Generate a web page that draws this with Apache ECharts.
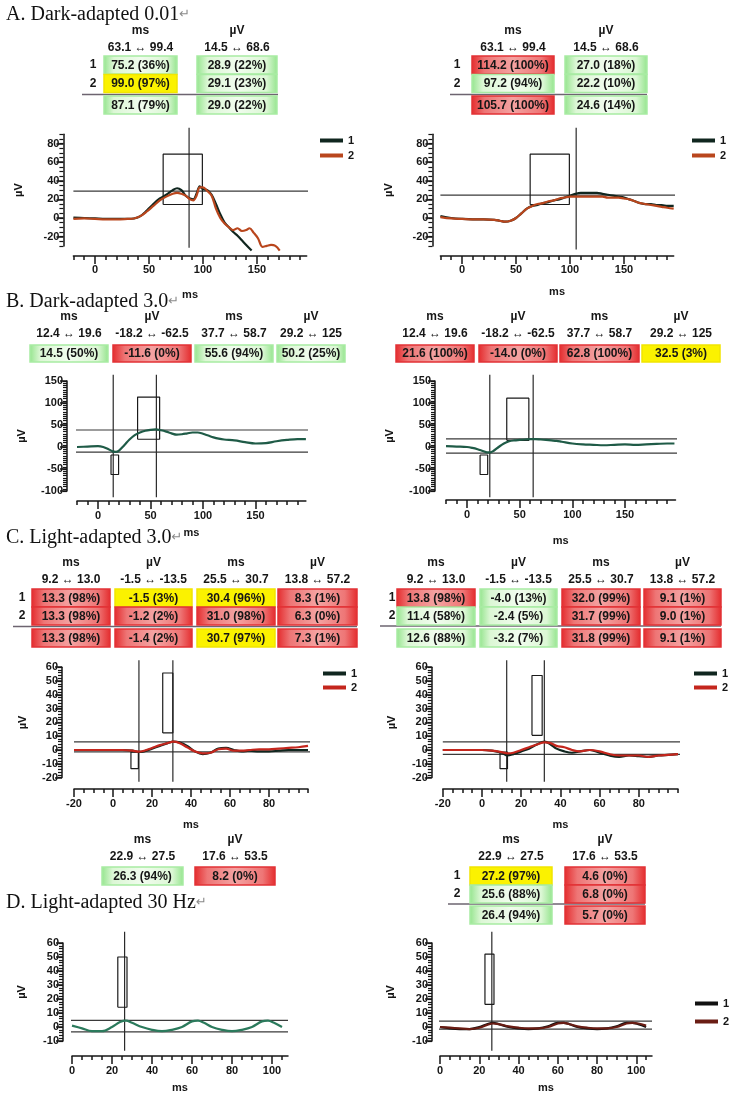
<!DOCTYPE html>
<html>
<head>
<meta charset="utf-8">
<script src="https://cdn.jsdelivr.net/npm/echarts@6.0.0/dist/echarts.min.js"></script>
<style>
html, body { margin: 0; padding: 0; background: #fff; }
#main { width: 744px; height: 1116px; }
</style>
</head>
<body>
<div id="main"></div>
<script>
// ===== waveforms (ms / µV) =====
// A. Dark-adapted 0.01, left eye
var msA1t1 = [-20,-10,0,10,20,30,36,42,48,54,60,66,72,76,80,84,88,91,94,97,100,104,108,112,116,120,124,128,132,136,140,145];
var uvA1t1 = [0.5,0,-0.5,-1,-1,-1,-0.5,2,8,15,21,25,30,32,30,24,21,20,26,34,31,30,25,15,4,-5,-10,-15,-19,-24,-29,-35];
var msA1t2 = [-20,-10,0,10,20,30,36,42,48,54,60,66,72,76,80,84,88,91,94,97,100,104,108,112,116,120,124,128,132,136,140,143,147,151,155,159,163,167,171];
var uvA1t2 = [-1,-0.5,-1,-1.5,-1.5,-1,-0.5,2,7,13,19,23,26,27,26,24,20,19,24,33,33,29,24,10,0,-6,-10,-13,-11,-14,-13,-11,-16,-22,-31,-30,-29,-30,-35];
// A. right eye
var msA2 = [-20,-10,0,10,20,30,35,40,45,50,55,60,65,70,75,80,85,90,95,100,105,110,115,120,125,130,135,140,145,150,155,160,165,170,175,180,185,190,196];
var uvA2t1 = [2,0,-1,-1.5,-1.5,-2,-3,-4,-3,0,5,10,13,14,16,17,19,20,22,24,26,27,27,27,27,26,25,24,23,22,20,18,16,15,15,14,14,13,13];
var uvA2t2 = [1,-0.5,-1,-1.5,-1.5,-2,-3,-4,-3,0,5,10,13,15,16,18,19,21,22,23,23,23,23,23,23,23,22,22,22,21,20,18,16,15,14,13,12,11,10];
// B. Dark-adapted 3.0
var msB1 = [-20,-10,0,5,10,14,17,20,25,30,35,40,45,50,55,60,65,70,75,80,85,90,95,100,105,110,115,120,130,140,150,160,170,180,190,198];
var uvB1 = [0,1,2,0,-5,-10,-11,-8,4,17,27,33,37,39,40,38,35,31,28,29,31,33,33,30,26,22,19,17,15,11,8,9,13,16,18,18];
var msB2 = [-20,-10,0,5,10,15,19,22,25,30,35,40,45,50,55,60,65,70,75,80,85,90,100,110,120,130,140,150,160,170,180,190,197];
var uvB2 = [2,1,0,-2,-5,-9,-12,-12,-9,0,8,13,15,16,17,18,18,17,16,15,14,12,8,6,5,4,5,6,5,6,7,8,8];
// C. Light-adapted 3.0
var msC1 = [-20,-15,-10,-5,0,5,10,13,16,20,24,28,31,34,38,42,46,50,54,58,62,66,70,75,80,85,90,95,100];
var uvC1t1 = [0,0,0,0,0,0,-0.5,-1.4,-1,1,3,5,6,5.5,3,-1,-3,-2,1,1.5,0,-1,-0.5,-1,-1,-0.5,0,0,0];
var uvC1t2 = [0,0,0,0,0,0,-0.5,-1.2,-0.5,1.5,3.5,5,6,5,2,-1,-2.5,-2,0.5,1,-0.5,-0.5,0,0.5,0.5,1,1.5,2,3];
var msC2 = [-20,-15,-10,-5,0,5,10,13,16,20,24,28,32,35,38,42,46,50,55,60,65,70,75,80,85,90,95,100];
var uvC2t1 = [0,0,0,0,0,-0.5,-2,-4,-3,-1,1,4,6,4,1,-1,-2,-1,0,-2,-4,-5,-4,-4.5,-5,-4,-3.5,-3];
var uvC2t2 = [0,0,0,0,0,-0.5,-1.5,-2.4,-2,0,2,4,5.5,5,3,2,0,-1,0,-1,-3,-4,-4,-4,-5,-4,-3.5,-3];
// D. Light-adapted 30 Hz
var msD = [0,5,10,15,20,24,27,30,35,40,45,50,55,60,63,66,70,75,80,85,90,95,98,101,105];
var uvD1 = [1,-1,-3,-3,0,3.5,4.5,3,0,-2,-3,-2,0,4,4.5,3,0,-2,-3,-2,0,4,4.5,3,0];
var uvD2t1 = [0,-1,-1.5,-1.5,0,2,3,2,0,-1,-1.5,-1,0.5,3,3,2,0,-1,-1.5,-1,0.5,3,3,2,0];
var uvD2t2 = [0,-0.5,-1,-1.5,-0.5,1.5,2.5,2,0.5,-0.5,-1,-1,0,2.5,3,2,0.5,-0.5,-1,-1,0,2.5,3,2.5,1];

// ===== result tables =====
var unitsA = ['ms', 'µV'];
var rangesA = ['63.1 ↔ 99.4', '14.5 ↔ 68.6'];
var rowsA1 = [['75.2 (36%)', '28.9 (22%)'], ['99.0 (97%)', '29.1 (23%)'], ['87.1 (79%)', '29.0 (22%)']];
var flagsA1 = [['g', 'g'], ['y', 'g'], ['g', 'g']];
var rowsA2 = [['114.2 (100%)', '27.0 (18%)'], ['97.2 (94%)', '22.2 (10%)'], ['105.7 (100%)', '24.6 (14%)']];
var flagsA2 = [['r', 'g'], ['g', 'g'], ['r', 'g']];

var unitsB = ['ms', 'µV', 'ms', 'µV'];
var rangesB = ['12.4 ↔ 19.6', '-18.2 ↔ -62.5', '37.7 ↔ 58.7', '29.2 ↔ 125'];
var rowsB1 = [['14.5 (50%)', '-11.6 (0%)', '55.6 (94%)', '50.2 (25%)']];
var flagsB1 = [['g', 'r', 'g', 'g']];
var rowsB2 = [['21.6 (100%)', '-14.0 (0%)', '62.8 (100%)', '32.5 (3%)']];
var flagsB2 = [['r', 'r', 'r', 'y']];

var unitsC = ['ms', 'µV', 'ms', 'µV'];
var rangesC = ['9.2 ↔ 13.0', '-1.5 ↔ -13.5', '25.5 ↔ 30.7', '13.8 ↔ 57.2'];
var rowsC1 = [['13.3 (98%)', '-1.5 (3%)', '30.4 (96%)', '8.3 (1%)'], ['13.3 (98%)', '-1.2 (2%)', '31.0 (98%)', '6.3 (0%)'], ['13.3 (98%)', '-1.4 (2%)', '30.7 (97%)', '7.3 (1%)']];
var flagsC1 = [['r', 'y', 'y', 'r'], ['r', 'r', 'r', 'r'], ['r', 'r', 'y', 'r']];
var rowsC2 = [['13.8 (98%)', '-4.0 (13%)', '32.0 (99%)', '9.1 (1%)'], ['11.4 (58%)', '-2.4 (5%)', '31.7 (99%)', '9.0 (1%)'], ['12.6 (88%)', '-3.2 (7%)', '31.8 (99%)', '9.1 (1%)']];
var flagsC2 = [['r', 'g', 'r', 'r'], ['g', 'g', 'r', 'r'], ['g', 'g', 'r', 'r']];

var unitsD = ['ms', 'µV'];
var rangesD = ['22.9 ↔ 27.5', '17.6 ↔ 53.5'];
var rowsD1 = [['26.3 (94%)', '8.2 (0%)']];
var flagsD1 = [['g', 'r']];
var rowsD2 = [['27.2 (97%)', '4.6 (0%)'], ['25.6 (88%)', '6.8 (0%)'], ['26.4 (94%)', '5.7 (0%)']];
var flagsD2 = [['y', 'r'], ['g', 'r'], ['g', 'r']];

// normal-range boxes and measured cursors (ms, µV)
var boxA = [63.1, 99.4, 14.5, 68.6];
var boxBa = [12.4, 19.6, -18.2, -62.5], bandBb = [37.7, 58.7, 29.2, 125];
var boxCa = [9.2, 13.0, -1.5, -13.5], bandCb = [25.5, 30.7, 13.8, 57.2];
var bandD = [22.9, 27.5, 17.6, 53.5];
var troughD1 = -3.5, troughD2 = -1.5;

var titles = ['A. Dark-adapted 0.01', 'B. Dark-adapted 3.0', 'C. Light-adapted 3.0', 'D. Light-adapted 30 Hz'];

// ===== layout =====
var FONT = '"Liberation Sans", Arial, sans-serif';
var INK = '#161616';
var colK = '#10261f', colO = '#b9461d', colR = '#c4261d', colG = '#1f5b47', colGD = '#2b7a5c', colBr = '#6a1d14';

var panels = [
  { key: 'a1', left: 73.4, top: 134.3, width: 233.3, height: 111.6, x: [-20, 196], y: [-30, 90], yOff: 10, xOff: 10,
    xMinor: 10, xMajor: [0, 50, 100, 150], yMinor: 5, yMajor: [-20, 0, 20, 40, 60, 80], xGap: 34, yGap: 39,
    traces: [[msA1t1, uvA1t1, colK], [msA1t2, uvA1t2, colO]], legend: { left: 315, top: 130, gap: 4 },
    v: [87.1], h: [29.0], vSpan: [97, -32], hSpan: [-20, 202], boxes: [boxA] },
  { key: 'a2', left: 440.4, top: 134.3, width: 233.3, height: 111.6, x: [-20, 196], y: [-30, 90], yOff: 8, xOff: 10,
    xMinor: 10, xMajor: [0, 50, 100, 150], yMinor: 5, yMajor: [-20, 0, 20, 40, 60, 80], xGap: 31, yGap: 38,
    traces: [[msA2, uvA2t1, colK], [msA2, uvA2t2, colO]], legend: { left: 687, top: 130, gap: 4 },
    v: [105.7], h: [24.6], vSpan: [97, -34], hSpan: [-20, 203], boxes: [boxA] },
  { key: 'b1', left: 77, top: 381, width: 228.9, height: 110, x: [-20, 198], y: [-100, 150], yOff: 10, xOff: 10,
    xMinor: 10, xMajor: [0, 50, 100, 150], yMinor: 5, yMajor: [-100, -50, 0, 50, 100, 150], xGap: 26, yGap: 40,
    traces: [[msB1, uvB1, colG]], trough: -11.6, amp: 50.2, bBand: bandBb,
    v: [14.5, 55.6], vSpan: [164, -114], hSpan: [-22, 204], boxes: [boxBa] },
  { key: 'b2', left: 446, top: 381, width: 229.5, height: 110, x: [-20, 198], y: [-100, 150], yOff: 11, xOff: 9,
    xMinor: 10, xMajor: [0, 50, 100, 150], yMinor: 5, yMajor: [-100, -50, 0, 50, 100, 150], xGap: 35, yGap: 40,
    traces: [[msB2, uvB2, colG]], trough: -14.0, amp: 32.5, bBand: bandBb,
    v: [21.6, 62.8], vSpan: [164, -114], hSpan: [-20, 204], boxes: [boxBa] },
  { key: 'c1', left: 74, top: 667.2, width: 234, height: 110.4, x: [-20, 100], y: [-20, 60], yOff: 12, xOff: 11.4,
    xMinor: 5, xMajor: [-20, 0, 20, 40, 60, 80], yMinor: 2, yMajor: [-20, -10, 0, 10, 20, 30, 40, 50, 60], xGap: 30, yGap: 34,
    traces: [[msC1, uvC1t1, colK], [msC1, uvC1t2, colR]], legend: { left: 318, top: 663, gap: 3 },
    trough: -1.4, amp: 7.3, bBand: bandCb,
    v: [13.3, 30.7], vSpan: [65, -23], hSpan: [-20, 118], boxes: [boxCa] },
  { key: 'c2', left: 442.8, top: 667.2, width: 235.2, height: 110.4, x: [-20, 100], y: [-20, 60], yOff: 11, xOff: 11.4,
    xMinor: 5, xMajor: [-20, 0, 20, 40, 60, 80], yMinor: 2, yMajor: [-20, -10, 0, 10, 20, 30, 40, 50, 60], xGap: 30, yGap: 34,
    traces: [[msC2, uvC2t1, colK], [msC2, uvC2t2, colR]], legend: { left: 689, top: 663, gap: 3 },
    trough: -3.2, amp: 9.1, bBand: bandCb,
    v: [12.6, 31.8], vSpan: [65, -23], hSpan: [-20, 117], boxes: [boxCa] },
  { key: 'd1', left: 72, top: 943, width: 216, height: 98, x: [0, 108], y: [-10, 60], yOff: 9, xOff: 15,
    xMinor: 5, xMajor: [0, 20, 40, 60, 80, 100], yMinor: 2, yMajor: [-10, 0, 10, 20, 30, 40, 50, 60], xGap: 26, yGap: 36,
    traces: [[msD, uvD1, colGD]], trough: troughD1, amp: 8.2, bBand: bandD,
    v: [26.3], vSpan: [68, -17], hSpan: [-2, 108], boxes: [] },
  { key: 'd2', left: 440, top: 943, width: 212, height: 98, x: [0, 108], y: [-10, 60], yOff: 8, xOff: 15,
    xMinor: 5, xMajor: [0, 20, 40, 60, 80, 100], yMinor: 2, yMajor: [-10, 0, 10, 20, 30, 40, 50, 60], xGap: 26, yGap: 36,
    traces: [[msD, uvD2t1, '#111'], [msD, uvD2t2, colBr]], legend: { left: 690, top: 993, gap: 7 },
    trough: troughD2, amp: 5.7, bBand: bandD,
    v: [26.4], vSpan: [68, -17], hSpan: [-2, 108], boxes: [] }
];

var tables = [
  { units: unitsA, ranges: rangesA, rows: rowsA1, flags: flagsA1, cols: [104, 197], widths: [73, 80], headY: 31, rangeY: 48, rowTops: [56, 74.5, 96], rowH: 18, labelX: 93, sep: [82, 278, 94.5] },
  { units: unitsA, ranges: rangesA, rows: rowsA2, flags: flagsA2, cols: [472, 565], widths: [82, 82], headY: 31, rangeY: 48, rowTops: [56, 74.5, 96], rowH: 18, labelX: 457, sep: [450, 647, 94.5] },
  { units: unitsB, ranges: rangesB, rows: rowsB1, flags: flagsB1, cols: [30, 113, 195, 277], widths: [78, 78, 78, 68], headY: 317, rangeY: 334, rowTops: [345], rowH: 17 },
  { units: unitsB, ranges: rangesB, rows: rowsB2, flags: flagsB2, cols: [396, 479, 560, 642], widths: [78, 78, 79, 78], headY: 317, rangeY: 334, rowTops: [345], rowH: 17 },
  { units: unitsC, ranges: rangesC, rows: rowsC1, flags: flagsC1, cols: [32, 115, 197, 278], widths: [78, 77, 78, 79], headY: 563, rangeY: 580, rowTops: [589, 607, 629], rowH: 18, labelX: 22, sep: [13, 357, 626.5] },
  { units: unitsC, ranges: rangesC, rows: rowsC2, flags: flagsC2, cols: [397, 480, 562, 644], widths: [78, 77, 78, 77], headY: 563, rangeY: 580, rowTops: [589, 607, 629], rowH: 18, labelX: 392, sep: [380, 721, 626] },
  { units: unitsD, ranges: rangesD, rows: rowsD1, flags: flagsD1, cols: [102, 195], widths: [81, 80], headY: 840, rangeY: 857, rowTops: [867], rowH: 18 },
  { units: unitsD, ranges: rangesD, rows: rowsD2, flags: flagsD2, cols: [470, 565], widths: [82, 80], headY: 840, rangeY: 857, rowTops: [867, 885, 906], rowH: 18, labelX: 457, sep: [448, 645, 904] }
];
var titleY = [15, 302, 538, 903];

// ===== helpers =====
function zip(xs, ys) { return xs.map(function (x, i) { return [x, ys[i]]; }); }
function steps(a, b, s) {
  var out = [];
  for (var v = Math.ceil(a / s - 1e-9) * s; v <= b + 1e-9; v += s) out.push(+v.toFixed(6));
  return out;
}
function hGrad(stops) {
  return { type: 'linear', x: 0, y: 0, x2: 1, y2: 0, colorStops: stops.map(function (c) { return { offset: c[0], color: c[1] }; }) };
}
var fills = {
  g: { fill: hGrad([[0, '#93e48c'], [0.14, '#dcf7d5'], [0.5, '#f1fcee'], [0.86, '#dcf7d5'], [1, '#93e48c']]), stroke: '#a8eba2' },
  r: { fill: hGrad([[0, '#e42a2c'], [0.16, '#ee7676'], [0.5, '#f4a3a2'], [0.84, '#ee7676'], [1, '#e42a2c']]), stroke: '#e23236' },
  y: { fill: '#fbf200', stroke: '#f1e500' }
};

var grids = [], xAxes = [], yAxes = [], series = [], legends = [], graphics = [];
var axisLine = { show: true, onZero: false, lineStyle: { color: INK, width: 1.5 } };
var lblStyle = { fontSize: 11, fontWeight: 'bold', color: INK, fontFamily: FONT };

panels.forEach(function (p, i) {
  grids.push({ left: p.left, top: p.top, width: p.width, height: p.height });
  // x: minor ruler + major ticks/labels
  xAxes.push({ type: 'value', gridIndex: i, min: p.x[0], max: p.x[1], position: 'bottom', offset: p.xOff,
    axisLine: axisLine, splitLine: { show: false }, axisLabel: { show: false },
    axisTick: { show: true, customValues: steps(p.x[0], p.x[1], p.xMinor), length: 4, lineStyle: { color: INK, width: 1.5 } } });
  xAxes.push({ type: 'value', gridIndex: i, min: p.x[0], max: p.x[1], position: 'bottom', offset: p.xOff,
    axisLine: { show: false, onZero: false }, splitLine: { show: false },
    axisTick: { show: true, customValues: p.xMajor, length: 8, lineStyle: { color: INK, width: 1.5 } },
    axisLabel: Object.assign({ customValues: p.xMajor, margin: 9 }, lblStyle),
    name: 'ms', nameLocation: 'middle', nameGap: p.xGap, nameTextStyle: lblStyle });
  // y: minor comb + major ticks/labels
  yAxes.push({ type: 'value', gridIndex: i, min: p.y[0], max: p.y[1], position: 'left', offset: p.yOff,
    axisLine: axisLine, splitLine: { show: false }, axisLabel: { show: false },
    axisTick: { show: true, customValues: steps(p.y[0], p.y[1], p.yMinor), length: 4, lineStyle: { color: INK, width: 1.2 } } });
  yAxes.push({ type: 'value', gridIndex: i, min: p.y[0], max: p.y[1], position: 'left', offset: p.yOff,
    axisLine: { show: false, onZero: false }, splitLine: { show: false },
    axisTick: { show: true, customValues: p.yMajor, length: 7, lineStyle: { color: INK, width: 1.5 } },
    axisLabel: Object.assign({ customValues: p.yMajor, margin: 4 }, lblStyle),
    name: 'µV', nameLocation: 'middle', nameGap: p.yGap, nameTextStyle: lblStyle });

  var xi = 2 * i, yi = 2 * i;
  function guide(pts, color) {
    series.push({ type: 'line', xAxisIndex: xi, yAxisIndex: yi, data: pts, symbol: 'none', clip: false,
      silent: true, animation: false, z: 2, lineStyle: { color: color || '#2a2a2a', width: 1.2 } });
  }
  // measured cursors
  var hVals = (p.h || []).slice();
  if (p.trough !== undefined) { hVals.push(p.trough); hVals.push(p.trough + p.amp); }
  hVals.forEach(function (h) { guide([[p.hSpan[0], h], [p.hSpan[1], h]], '#3a3a3a'); });
  p.v.forEach(function (v) { guide([[v, p.vSpan[0]], [v, p.vSpan[1]]]); });
  // normal-range boxes
  var boxes = p.boxes.slice();
  if (p.bBand) boxes.push([p.bBand[0], p.bBand[1], p.trough + p.bBand[2], p.trough + p.bBand[3]]);
  boxes.forEach(function (b) {
    guide([[b[0], b[2]], [b[1], b[2]], [b[1], b[3]], [b[0], b[3]], [b[0], b[2]]], '#1a1a1a');
  });
  // traces
  var names = [];
  p.traces.forEach(function (t, k) {
    var nm = p.key + ':' + (k + 1);
    names.push(nm);
    series.push({ type: 'line', name: nm, xAxisIndex: xi, yAxisIndex: yi, data: zip(t[0], t[1]),
      symbol: 'none', smooth: 0.35, clip: false, silent: true, animation: false, z: 3,
      color: t[2], lineStyle: { color: t[2], width: 2.2 } });
  });
  if (p.legend) {
    legends.push({ data: names, left: p.legend.left, top: p.legend.top, orient: 'vertical',
      icon: 'rect', itemWidth: 23, itemHeight: 4, itemGap: p.legend.gap, selectedMode: false,
      textStyle: { fontSize: 11, fontWeight: 'bold', color: INK, fontFamily: FONT },
      formatter: function (n) { return n.split(':')[1]; } });
  }
});

// section titles
titles.forEach(function (t, i) {
  graphics.push({ type: 'text', x: 6, y: titleY[i], style: {
    text: '{t|' + t + '}{r|↵}', textVerticalAlign: 'middle', verticalAlign: 'middle',
    rich: { t: { fontFamily: '"Liberation Serif", "DejaVu Serif", serif', fontSize: 20, fill: '#111', color: '#111' },
            r: { fontFamily: '"DejaVu Sans", sans-serif', fontSize: 13, fill: '#8a8a8a', color: '#8a8a8a' } } } });
});

// tables
function txt(x, y, s, size) {
  return { type: 'text', x: x, y: y, z: 10, style: { text: s, fill: INK,
    font: 'bold ' + (size || 12) + 'px ' + FONT, textAlign: 'center', align: 'center',
    textVerticalAlign: 'middle', verticalAlign: 'middle' } };
}
tables.forEach(function (t) {
  t.cols.forEach(function (cx, c) {
    var mid = cx + t.widths[c] / 2;
    graphics.push(txt(mid, t.headY, t.units[c]));
    graphics.push(txt(mid, t.rangeY, t.ranges[c]));
    t.rows.forEach(function (row, r) {
      var f = fills[t.flags[r][c]];
      graphics.push({ type: 'rect', z: 5, shape: { x: cx, y: t.rowTops[r], width: t.widths[c], height: t.rowH },
        style: { fill: f.fill, stroke: f.stroke, lineWidth: 1.5 } });
      graphics.push(txt(mid, t.rowTops[r] + t.rowH / 2 + 0.5, row[c]));
    });
  });
  if (t.rows.length === 3) {
    graphics.push(txt(t.labelX, t.rowTops[0] + t.rowH / 2, '1'));
    graphics.push(txt(t.labelX, t.rowTops[1] + t.rowH / 2, '2'));
    graphics.push({ type: 'line', z: 4, shape: { x1: t.sep[0], y1: t.sep[2], x2: t.sep[1], y2: t.sep[2] },
      style: { stroke: '#6d6470', lineWidth: 1.5 } });
  }
});

var chart = echarts.init(document.getElementById('main'), null, { renderer: 'canvas' });
chart.setOption({
  backgroundColor: '#fff',
  animation: false,
  textStyle: { fontFamily: FONT },
  grid: grids,
  xAxis: xAxes,
  yAxis: yAxes,
  legend: legends,
  series: series,
  graphic: { elements: graphics }
});
</script>
</body>
</html>
